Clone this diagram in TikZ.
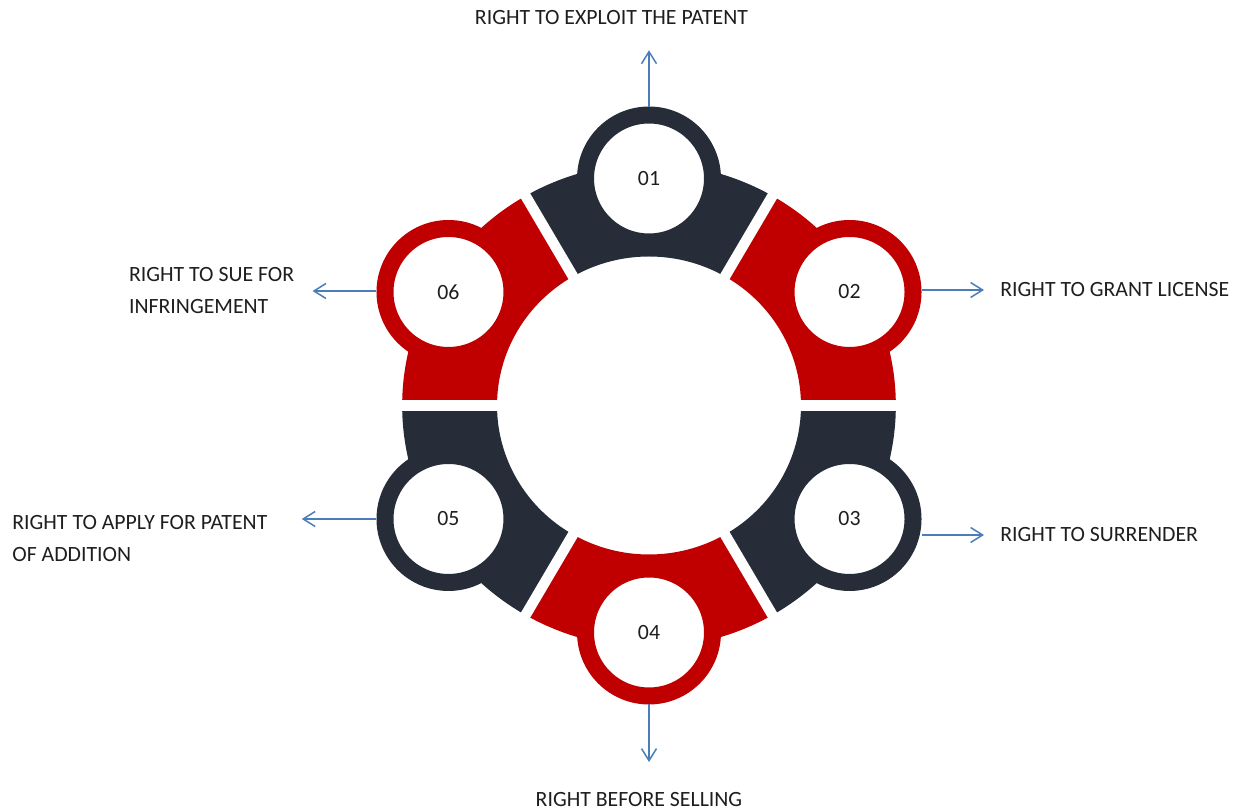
\documentclass[tikz,border=0pt]{standalone}
\usepackage{fontspec}
\setmainfont{Carlito}
\usepackage{tikz}
\usetikzlibrary{arrows.meta, calc}
\definecolor{ringDark}{HTML}{262D38}
\definecolor{ringRed}{HTML}{C00000}
\definecolor{arrowBlue}{HTML}{4A7EBB}
\definecolor{labelGray}{HTML}{1E1E1E}

\begin{document}
\begin{tikzpicture}[x=0.02cm, y=0.02cm,
	every node/.style={inner sep=0pt, text=labelGray, font=\fontsize{12.4}{18.2}\selectfont},
	numcircle/.style={circle, fill=white, line width=3.4mm, minimum size=2.54cm},
	sidelabel/.style={anchor=west, align=left},
	pointer/.style={arrowBlue, line width=0.3mm, -{Straight Barb[length=2.4mm, width=3mm]}}]
	\useasboundingbox (0,0) rectangle (1241,811);
	\coordinate (O) at (649,405.5);

	% ring of six segments
	\begin{scope}[shift={(O)}, xscale=1.02]
		\foreach \a/\col in {90/ringDark, 30/ringRed, -30/ringDark, -90/ringRed, -150/ringDark, 150/ringRed}
			\fill[\col] (\a-30:149) arc[start angle=\a-30, end angle=\a+30, radius=149]
				-- (\a+30:242) arc[start angle=\a+30, end angle=\a-30, radius=242] -- cycle;
		\foreach \g in {0,60,...,300}
			\draw[white, line width=2.1mm] (\g:140) -- (\g:250);
		\node[numcircle, draw=ringDark] (c1) at (90:227) {01};
		\node[numcircle, draw=ringRed] (c2) at (30:227) {02};
		\node[numcircle, draw=ringDark] (c3) at (-30:227) {03};
		\node[numcircle, draw=ringRed] (c4) at (-90:227) {04};
		\node[numcircle, draw=ringDark] (c5) at (-150:227) {05};
		\node[numcircle, draw=ringRed] (c6) at (150:227) {06};
	\end{scope}

	\node (t1) at (611.5,793.7) {RIGHT TO EXPLOIT THE PATENT};
	\node[sidelabel] (t2) at (1000,521) {RIGHT TO GRANT LICENSE};
	\node[sidelabel] (t3) at (1000,276) {RIGHT TO SURRENDER};
	\node (t4) at (639,11.5) {RIGHT BEFORE SELLING};
	\node[sidelabel] (t5) at (12,272.7) {RIGHT TO APPLY FOR PATENT\\OF ADDITION};
	\node[sidelabel] (t6) at (128.7,520) {RIGHT TO SUE FOR\\INFRINGEMENT};

	\draw[pointer, shorten >=5.1mm] (c1.north) -- (c1.north |- t1.south);
	\draw[pointer, shorten >=3.2mm] (c2.east |- t2.west) -- (t2.west);
	\draw[pointer, shorten >=3.2mm] (c3.east |- t3.west) -- (t3.west);
	\draw[pointer, shorten >=6mm] (c4.south) -- (c4.south |- t4.north);
	\draw[pointer, shorten >=6.8mm] (c5.west) -- (c5.west -| t5.east);
	\draw[pointer, shorten >=3.6mm] (c6.west |- t6.east) -- (t6.east);

\end{tikzpicture}
\end{document}
